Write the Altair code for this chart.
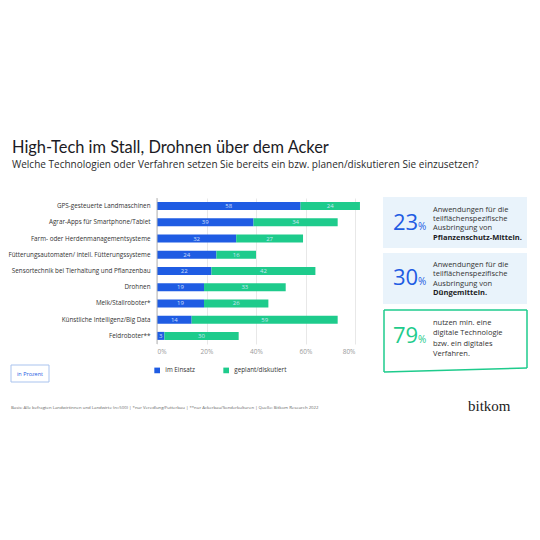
import altair as alt
import pandas as pd

# ---- data ----
categories = [
    "GPS-gesteuerte Landmaschinen",
    "Agrar-Apps für Smartphone/Tablet",
    "Farm- oder Herdenmanagementsysteme",
    "Fütterungsautomaten/ intell. Fütterungssysteme",
    "Sensortechnik bei Tierhaltung und Pflanzenbau",
    "Drohnen",
    "Melk/Stallroboter*",
    "Künstliche Intelligenz/Big Data",
    "Feldroboter**",
]
im_einsatz = [58, 39, 32, 24, 22, 19, 19, 14, 3]
geplant = [24, 34, 27, 16, 42, 33, 26, 59, 30]
series = ["im Einsatz", "geplant/diskutiert"]
x_ticks = [0, 20, 40, 60, 80]

rows = []
for c, a, b in zip(categories, im_einsatz, geplant):
    rows.append({"cat": c, "series": series[0], "value": a, "ord": 0})
    rows.append({"cat": c, "series": series[1], "value": b, "ord": 1})
df = pd.DataFrame(rows)

BLUE = "#1f5ce3"
GREEN = "#1ecb8c"
FONT = "Open Sans"

# plot-area origin on the page
OX, OY = 157, 198
W, H = 198, 146


def X(p):
    return p - OX


def Y(p):
    return p - OY


one = alt.Data(values=[{"k": 1}])

yenc = alt.Y(
    "cat:N",
    sort=categories,
    scale=alt.Scale(paddingInner=0.5, paddingOuter=0.25),
    axis=alt.Axis(
        title=None, ticks=False, domain=False, labelPadding=7,
        labelFontSize=6.3, labelColor="#333333", labelFont=FONT, labelLimit=200,
    ),
)

bars = alt.Chart(df).mark_bar(size=8).encode(
    y=yenc,
    x=alt.X(
        "value:Q", stack="zero",
        scale=alt.Scale(domain=[0, 80], nice=False),
        axis=alt.Axis(
            title=None, values=x_ticks, labelExpr="datum.value + '%'",
            grid=True, gridColor="#e8e8e8", domain=False, ticks=False,
            labelColor="#9a9a9a", labelFontSize=6.5, labelFont=FONT, labelPadding=4,
        ),
    ),
    color=alt.Color(
        "series:N",
        scale=alt.Scale(domain=series, range=[BLUE, GREEN]),
        legend=alt.Legend(
            orient="none", legendX=X(154), legendY=Y(367), direction="horizontal",
            title=None, symbolType="square", symbolSize=32, symbolStrokeWidth=0,
            symbolOpacity=1, labelFontSize=6.3, labelFont=FONT, labelColor="#333333",
            columnPadding=27, labelOffset=5,
        ),
    ),
    order=alt.Order("ord:Q"),
)

labels = alt.Chart(df).transform_stack(
    stack="value", groupby=["cat"], as_=["v0", "v1"], sort=[alt.SortField("ord")]
).transform_calculate(mid="(datum.v0 + datum.v1) / 2").mark_text(
    fontSize=6, color="#dfe9ff", font=FONT, opacity=0.9
).encode(
    y=alt.Y("cat:N", sort=categories),
    x=alt.X("mid:Q"),
    text=alt.Text("value:Q"),
)

zero = alt.Chart(one).mark_rule(color="#b8b8b8", strokeWidth=1).encode(x=alt.datum(0))


def txt(s, px, py, size, color="#222222", weight="normal", align="left",
        font=FONT, lh=None, baseline="alphabetic"):
    kw = dict(fontSize=size, color=color, fontWeight=weight, align=align,
              font=font, baseline=baseline)
    if lh is not None:
        kw["lineBreak"] = "\n"
        kw["lineHeight"] = lh
    return alt.Chart(one).mark_text(**kw).encode(
        x=alt.value(X(px)), y=alt.value(Y(py)), text=alt.value(s)
    )


def rect(x1, y1, x2, y2, fill, stroke=None, sw=1):
    kw = dict(fill=fill)
    if stroke:
        kw.update(stroke=stroke, strokeWidth=sw)
    return alt.Chart(one).mark_rect(**kw).encode(
        x=alt.value(X(x1)), x2=alt.value(X(x2)),
        y=alt.value(Y(y1)), y2=alt.value(Y(y2)),
    )


def line(x1, y1, x2, y2, color, sw):
    return alt.Chart(one).mark_rule(color=color, strokeWidth=sw).encode(
        x=alt.value(X(x1)), x2=alt.value(X(x2)),
        y=alt.value(Y(y1)), y2=alt.value(Y(y2)),
    )


layers = [
    # titles
    txt("High-Tech im Stall, Drohnen über dem Acker", 12, 153, 16.4, "#1b1b24", font="Lato"),
    txt("Welche Technologien oder Verfahren setzen Sie bereits ein bzw. planen/diskutieren Sie einzusetzen?",
        12, 168, 10.0, "#2a2a2a"),
    # "in Prozent" box
    rect(11, 365, 49, 382, "#ffffff", "#a9c3ee", 1),
    txt("in Prozent", 30, 375.5, 5.5, BLUE, align="center"),
    # info box 1
    rect(383, 197, 527, 248, "#e9f3fb"),
    txt("23", 393, 230, 22, BLUE),
    txt("%", 418, 230, 10, BLUE),
    txt("Anwendungen für die\nteilflächenspezifische\nAusbringung von", 433, 211.5, 7.5, "#333333", lh=9.3),
    txt("Pflanzenschutz-Mitteln.", 433, 239.5, 7.5, "#1b1b24", weight="bold"),
    # info box 2
    rect(383, 253, 527, 304, "#e9f3fb"),
    txt("30", 393, 285, 22, BLUE),
    txt("%", 418, 285, 10, BLUE),
    txt("Anwendungen für die\nteilflächenspezifische\nAusbringung von", 433, 267, 7.5, "#333333", lh=9.3),
    txt("Düngemitteln.", 433, 295, 7.5, "#1b1b24", weight="bold"),
    # info box 3 (slanted outline)
    rect(384, 310, 527, 369, "#ffffff"),
    line(384, 310, 527, 310, GREEN, 1.5),
    line(384, 310, 384, 372, GREEN, 1.5),
    line(527, 310, 527, 368, GREEN, 1.5),
    line(384, 372, 527, 368, GREEN, 1.5),
    txt("79", 393, 343, 22, GREEN),
    txt("%", 418, 343, 10, GREEN),
    txt("nutzen min. eine\ndigitale Technologie\nbzw. ein digitales\nVerfahren.", 433, 325, 7.5, "#333333", lh=10.3),
    # footer
    txt("Basis: Alle befragten Landwirtinnen und Landwirte (n=500) | *nur Veredlung/Futterbau | "
        "**nur Ackerbau/Sonderkulturen | Quelle: Bitkom Research 2022", 11, 409, 4.3, "#666666"),
    txt("bitkom", 468, 411, 15, "#222222", font="Liberation Serif"),
]

chart = alt.layer(bars, zero, labels, *layers).properties(
    width=W, height=H,
    autosize=alt.AutoSizeParams(type="none"),
    padding={"left": OX - 8, "top": OY - 8, "right": 524 - (OX - 8) - W, "bottom": 524 - (OY - 8) - H},
    background="#ffffff",
).configure_view(stroke=None)

chart.save("out.html", embed_options={"renderer": "svg", "actions": False})
